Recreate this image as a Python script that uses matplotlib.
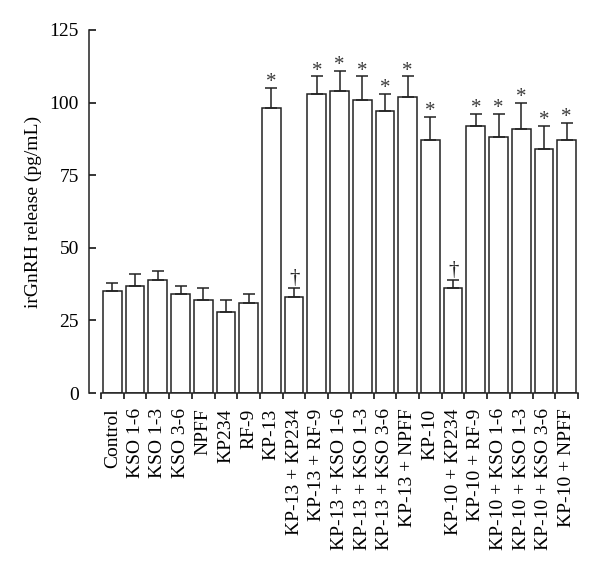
import matplotlib
matplotlib.use("Agg")
import matplotlib.pyplot as plt
import numpy as np

categories = ["Control", "KSO 1-6", "KSO 1-3", "KSO 3-6", "NPFF", "KP234", "RF-9",
              "KP-13", "KP-13 + KP234", "KP-13 + RF-9", "KP-13 + KSO 1-6",
              "KP-13 + KSO 1-3", "KP-13 + KSO 3-6", "KP-13 + NPFF", "KP-10",
              "KP-10 + KP234", "KP-10 + RF-9", "KP-10 + KSO 1-6", "KP-10 + KSO 1-3",
              "KP-10 + KSO 3-6", "KP-10 + NPFF"]
values = [35, 37, 39, 34, 32, 28, 31, 98, 33, 103, 104, 101, 97, 102, 87, 36, 92, 88, 91, 84, 87]
errors = [3, 4, 3, 3, 4, 4, 3, 7, 3, 6, 7, 8, 6, 7, 8, 3, 4, 8, 9, 8, 6]
marks = ["", "", "", "", "", "", "", "*", "\u2020", "*", "*", "*", "*", "*", "*",
         "\u2020", "*", "*", "*", "*", "*"]

plt.rcParams['font.family'] = ['Liberation Serif', 'DejaVu Serif']

fig = plt.figure(figsize=(6.0, 5.66), dpi=100)
ax = fig.add_axes([101/600, (566-393)/566, (578-101)/600, (393-30)/566])

x = np.arange(len(categories))
ax.bar(x, values, width=0.82, color='white', edgecolor='#222222', linewidth=1.1, zorder=2)
ax.errorbar(x, values, yerr=[np.zeros(len(errors)), errors], fmt='none',
            ecolor='#222222', elinewidth=1.1, capsize=4, capthick=1.1, zorder=3)

for xi, v, e, m in zip(x, values, errors, marks):
    if m == "*":
        ax.annotate(m, (xi, v + e), xytext=(0, -3), textcoords='offset points',
                    ha='center', va='bottom', fontsize=15, color='#3a3a3a')
    elif m:
        ax.annotate(m, (xi, v + e), xytext=(0, 0), textcoords='offset points',
                    ha='center', va='bottom', fontsize=15, color='#222222')

ax.set_xlim(-0.5, len(categories) - 0.5)
ax.set_ylim(0, 125)
ax.set_yticks([0, 25, 50, 75, 100, 125])
ax.set_xticks(np.arange(len(categories) + 1) - 0.5, minor=False)
ax.set_xticklabels([])
ax.set_xticks(x, minor=True)
ax.set_xticklabels(categories, minor=True, rotation=90, fontsize=14)
ax.tick_params(axis='x', which='major', direction='out', length=4, width=1.1)
ax.tick_params(axis='x', which='minor', length=0, pad=11)
ax.tick_params(axis='y', direction='in', length=5, width=1.1, labelsize=14, pad=7)

ax.spines['top'].set_visible(False)
ax.spines['right'].set_visible(False)
ax.spines['left'].set_position(('outward', 9))
for s in ['left', 'bottom']:
    ax.spines[s].set_linewidth(1.1)
    ax.spines[s].set_color('#222222')

ax.set_ylabel("irGnRH release (pg/mL)", fontsize=14, labelpad=5)

fig.savefig("out.png", dpi=100)
